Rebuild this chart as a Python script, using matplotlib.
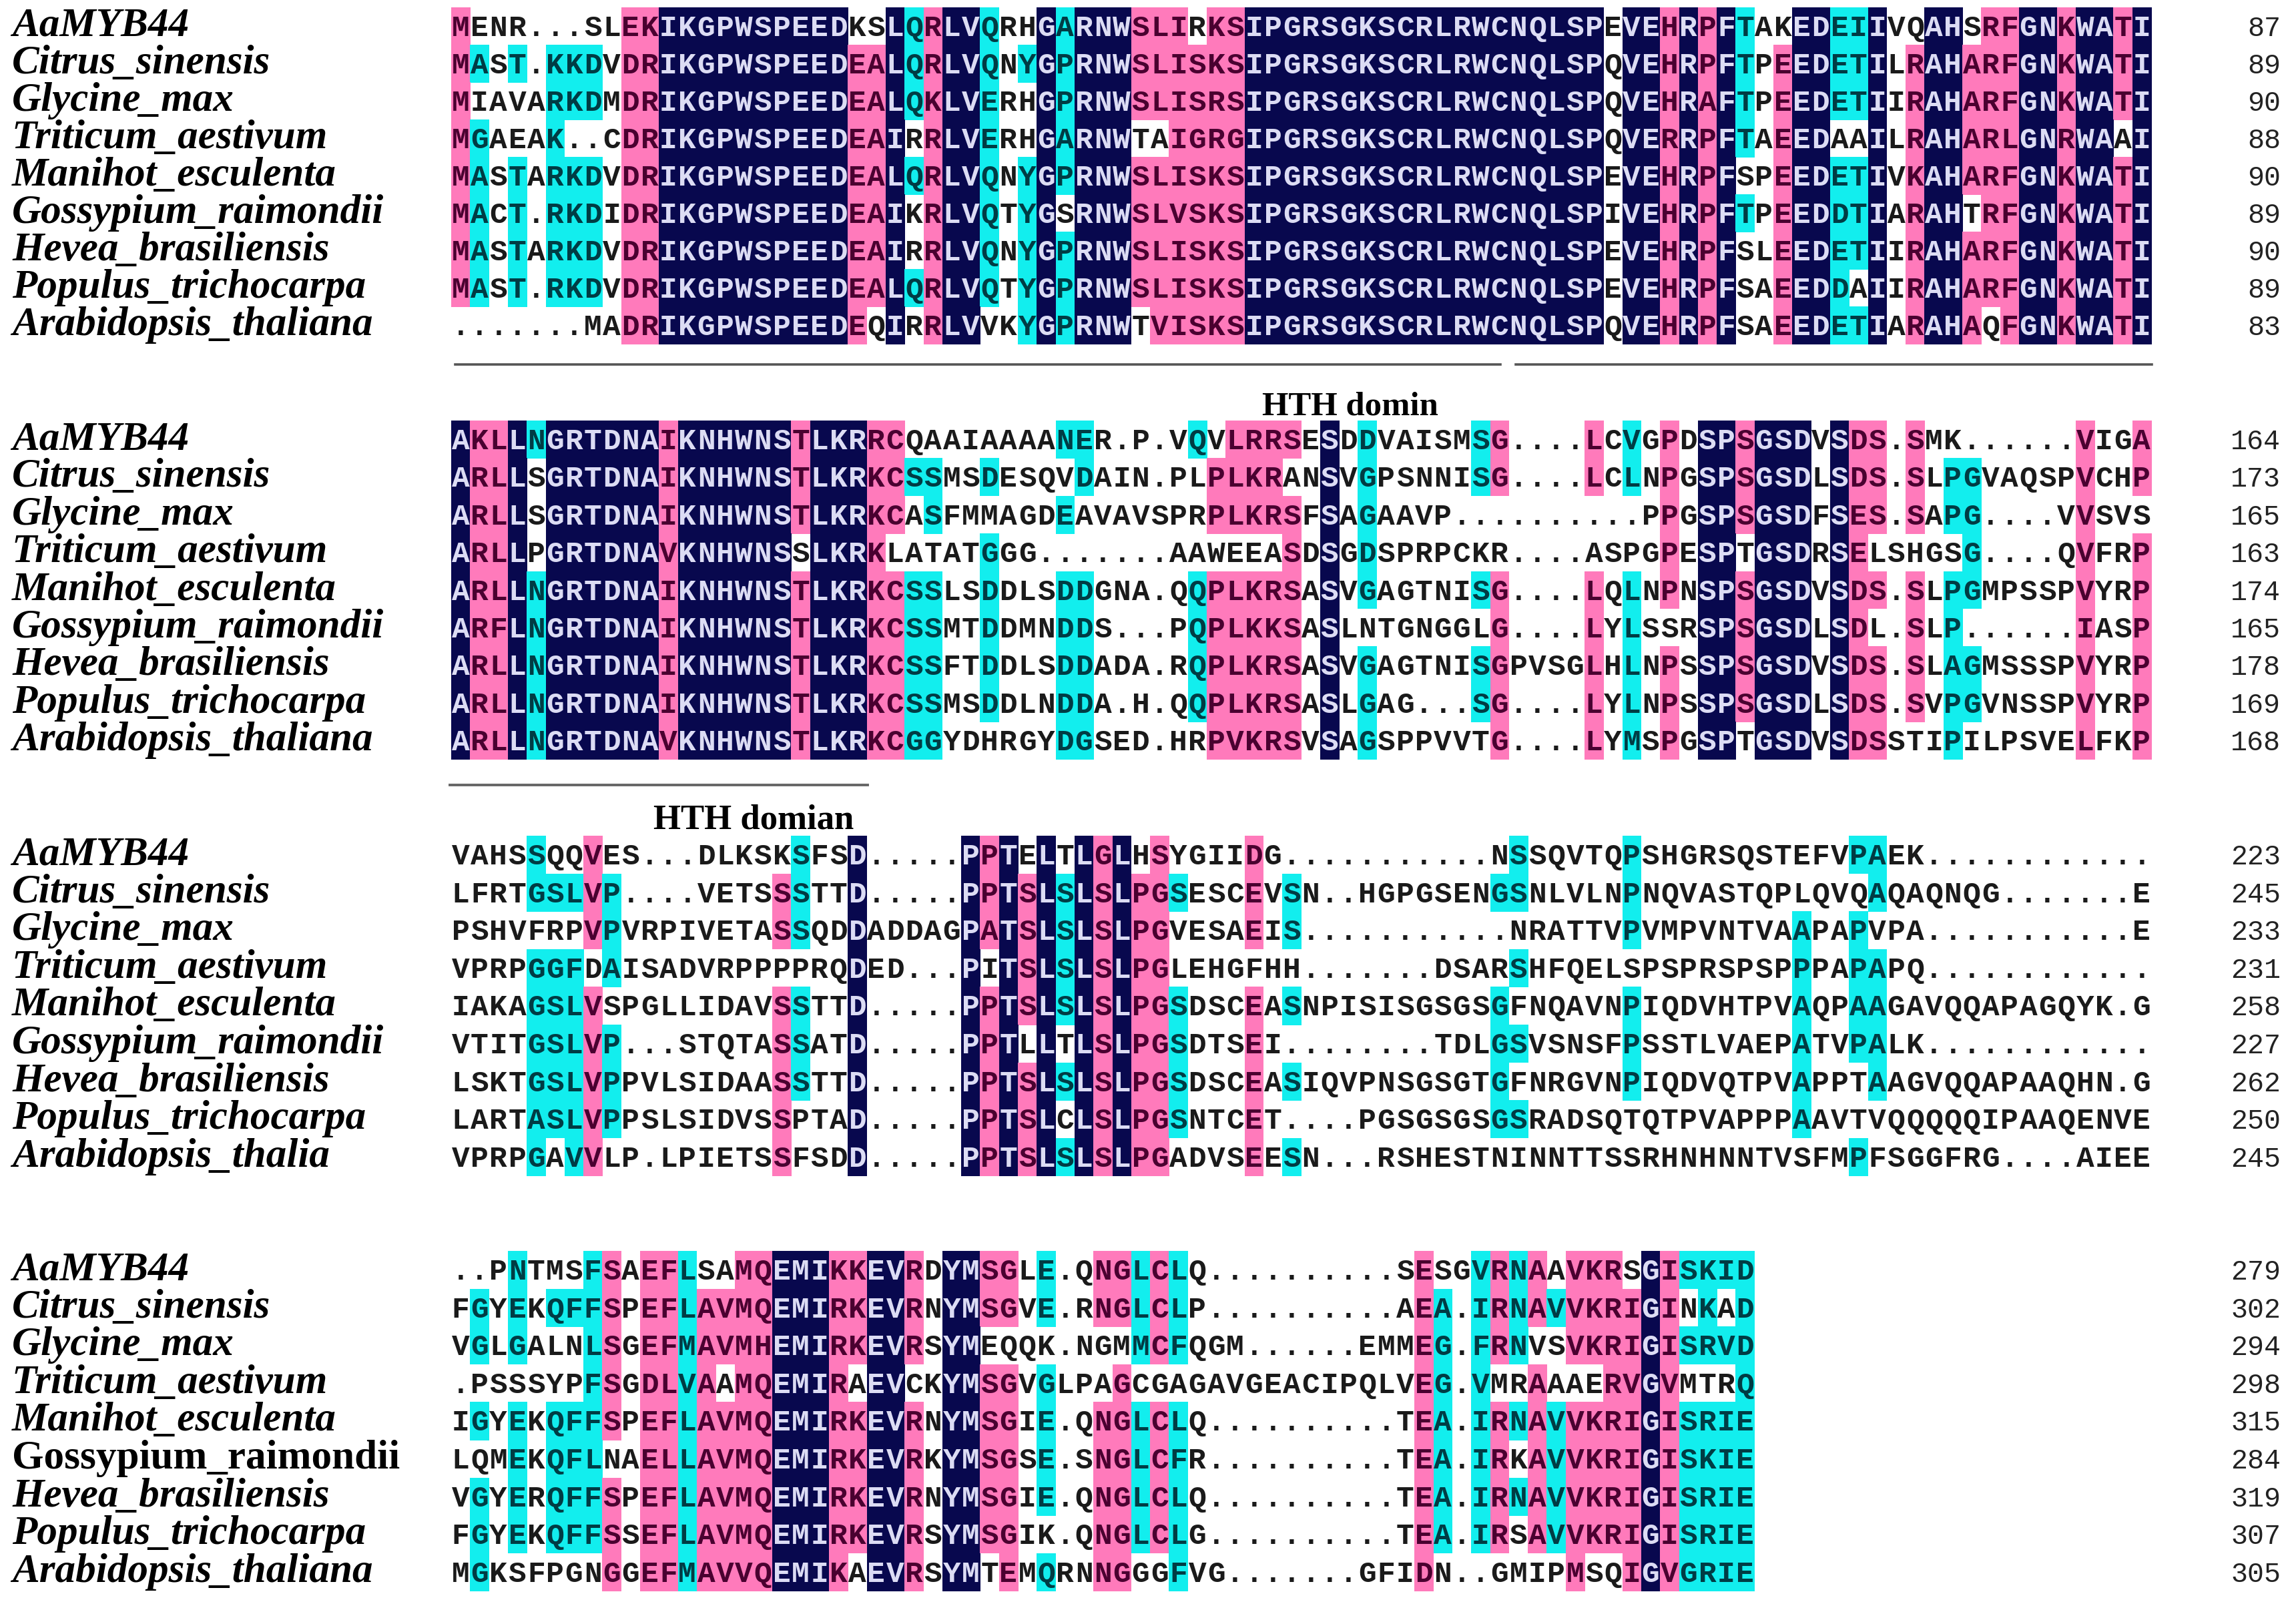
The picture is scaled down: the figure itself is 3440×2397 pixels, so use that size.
import matplotlib
matplotlib.use('Agg')
import matplotlib.pyplot as plt
from matplotlib.patches import Rectangle

# species labels for each block (block 3 really is cut short in the original)
species = ['AaMYB44', 'Citrus_sinensis', 'Glycine_max', 'Triticum_aestivum', 'Manihot_esculenta',
           'Gossypium_raimondii', 'Hevea_brasiliensis', 'Populus_trichocarpa', 'Arabidopsis_thaliana']
species_block3 = species[:8] + ['Arabidopsis_thalia']

# alignment rows
seq1 = ['MENR...SLEKIKGPWSPEEDKSLQRLVQRHGARNWSLIRKSIPGRSGKSCRLRWCNQLSPEVEHRPFTAKEDEIIVQAHSRFGNKWATI',
        'MAST.KKDVDRIKGPWSPEEDEALQRLVQNYGPRNWSLISKSIPGRSGKSCRLRWCNQLSPQVEHRPFTPEEDETILRAHARFGNKWATI',
        'MIAVARKDMDRIKGPWSPEEDEALQKLVERHGPRNWSLISRSIPGRSGKSCRLRWCNQLSPQVEHRAFTPEEDETIIRAHARFGNKWATI',
        'MGAEAK..CDRIKGPWSPEEDEAIRRLVERHGARNWTAIGRGIPGRSGKSCRLRWCNQLSPQVERRPFTAEEDAAILRAHARLGNRWAAI',
        'MASTARKDVDRIKGPWSPEEDEALQRLVQNYGPRNWSLISKSIPGRSGKSCRLRWCNQLSPEVEHRPFSPEEDETIVKAHARFGNKWATI',
        'MACT.RKDIDRIKGPWSPEEDEAIKRLVQTYGSRNWSLVSKSIPGRSGKSCRLRWCNQLSPIVEHRPFTPEEDDTIARAHTRFGNKWATI',
        'MASTARKDVDRIKGPWSPEEDEAIRRLVQNYGPRNWSLISKSIPGRSGKSCRLRWCNQLSPEVEHRPFSLEEDETIIRAHARFGNKWATI',
        'MAST.RKDVDRIKGPWSPEEDEALQRLVQTYGPRNWSLISKSIPGRSGKSCRLRWCNQLSPEVEHRPFSAEEDDAIIRAHARFGNKWATI',
        '.......MADRIKGPWSPEEDEQIRRLVVKYGPRNWTVISKSIPGRSGKSCRLRWCNQLSPQVEHRPFSAEEDETIARAHAQFGNKWATI']
seq2 = ['AKLLNGRTDNAIKNHWNSTLKRRCQAAIAAAANER.P.VQVLRRSESDDVAISMSG....LCVGPDSPSGSDVSDS.SMK......VIGA',
        'ARLLSGRTDNAIKNHWNSTLKRKCSSMSDESQVDAIN.PLPLKRANSVGPSNNISG....LCLNPGSPSGSDLSDS.SLPGVAQSPVCHP',
        'ARLLSGRTDNAIKNHWNSTLKRKCASFMMAGDEAVAVSPRPLKRSFSAGAAVP..........PPGSPSGSDFSES.SAPG....VVSVS',
        'ARLLPGRTDNAVKNHWNSSLKRKLATATGGG.......AAWEEASDSGDSPRPCKR....ASPGPESPTGSDRSELSHGSG....QVFRP',
        'ARLLNGRTDNAIKNHWNSTLKRKCSSLSDDLSDDGNA.QQPLKRSASVGAGTNISG....LQLNPNSPSGSDVSDS.SLPGMPSSPVYRP',
        'ARFLNGRTDNAIKNHWNSTLKRKCSSMTDDMNDDS...PQPLKKSASLNTGNGGLG....LYLSSRSPSGSDLSDL.SLP......IASP',
        'ARLLNGRTDNAIKNHWNSTLKRKCSSFTDDLSDDADA.RQPLKRSASVGAGTNISGPVSGLHLNPSSPSGSDVSDS.SLAGMSSSPVYRP',
        'ARLLNGRTDNAIKNHWNSTLKRKCSSMSDDLNDDA.H.QQPLKRSASLGAG...SG....LYLNPSSPSGSDLSDS.SVPGVNSSPVYRP',
        'ARLLNGRTDNAVKNHWNSTLKRKCGGYDHRGYDGSED.HRPVKRSVSAGSPPVVTG....LYMSPGSPTGSDVSDSSTIPILPSVELFKP']
seq3 = ['VAHSSQQVES...DLKSKSFSD.....PPTELTLGLHSYGIIDG...........NSSQVTQPSHGRSQSTEFVPAEK............',
        'LFRTGSLVP....VETSSSTTD.....PPTSLSLSLPGSESCEVSN..HGPGSENGSNLVLNPNQVASTQPLQVQAQAQNQG.......E',
        'PSHVFRPVPVRPIVETASSQDDADDAGPATSLSLSLPGVESAEIS...........NRATTVPVMPVNTVAAPAPVPA...........E',
        'VPRPGGFDAISADVRPPPPRQDED...PITSLSLSLPGLEHGFHH.......DSARSHFQELSPSPRSPSPPPAPAPQ............',
        'IAKAGSLVSPGLLIDAVSSTTD.....PPTSLSLSLPGSDSCEASNPISISGSGSGFNQAVNPIQDVHTPVAQPAAGAVQQAPAGQYK.G',
        'VTITGSLVP...STQTASSATD.....PPTLLTLSLPGSDTSEI........TDLGSVSNSFPSSTLVAEPATVPALK............',
        'LSKTGSLVPPVLSIDAASSTTD.....PPTSLSLSLPGSDSCEASIQVPNSGSGTGFNRGVNPIQDVQTPVAPPTAAGVQQAPAAQHN.G',
        'LARTASLVPPSLSIDVSSPTAD.....PPTSLCLSLPGSNTCET....PGSGSGSGSRADSQTQTPVAPPPAAVTVQQQQQIPAAQENVE',
        'VPRPGAVVLP.LPIETSSFSDD.....PPTSLSLSLPGADVSEESN...RSHESTNINNTTSSRHNHNNTVSFMPFSGGFRG....AIEE']
seq4 = ['..PNTMSFSAEFLSAMQEMIKKEVRDYMSGLE.QNGLCLQ..........SESGVRNAAVKRSGISKID',
        'FGYEKQFFSPEFLAVMQEMIRKEVRNYMSGVE.RNGLCLP..........AEA.IRNAVVKRIGINKAD',
        'VGLGALNLSGEFMAVMHEMIRKEVRSYMEQQK.NGMMCFQGM......EMMEG.FRNVSVKRIGISRVD',
        '.PSSSYPFSGDLVAAMQEMIRAEVCKYMSGVGLPAGCGAGAVGEACIPQLVEG.VMRAAAERVGVMTRQ',
        'IGYEKQFFSPEFLAVMQEMIRKEVRNYMSGIE.QNGLCLQ..........TEA.IRNAVVKRIGISRIE',
        'LQMEKQFLNAELLAVMQEMIRKEVRKYMSGSE.SNGLCFR..........TEA.IRKAVVKRIGISKIE',
        'VGYERQFFSPEFLAVMQEMIRKEVRNYMSGIE.QNGLCLQ..........TEA.IRNAVVKRIGISRIE',
        'FGYEKQFFSSEFLAVMQEMIRKEVRSYMSGIK.QNGLCLG..........TEA.IRSAVVKRIGISRIE',
        'MGKSFPGNGGEFMAVVQEMIKAEVRSYMTEMQRNNGGGFVG.......GFIDN..GMIPMSQIGVGRIE']

# residue counts at the right of each row
counts1 = [87, 89, 90, 88, 90, 89, 90, 89, 83]
counts2 = [164, 173, 165, 163, 174, 165, 178, 169, 168]
counts3 = [223, 245, 233, 231, 258, 227, 262, 250, 245]
counts4 = [279, 302, 294, 298, 315, 284, 319, 307, 305]

# conservation per column, run length first: 0 none, 1 low, 2 mid, 3 identical
# a one digit pattern means all nine rows
cons1 = [(1, '222222220'), (1, '010111110'), (1, '0'), (1, '010011110'), (1, '0'), (1, '011111110'),
         (2, '011011110'), (1, '0'), (2, '2'), (10, '3'), (1, '022222222'), (1, '022222220'), (1, '3'),
         (1, '111010010'), (1, '2'), (2, '3'), (1, '111111110'), (1, '0'), (1, '010011111'), (1, '3'),
         (1, '111110111'), (3, '3'), (1, '222022220'), (1, '222022222'), (1, '2'), (1, '022222222'),
         (2, '2'), (19, '3'), (1, '0'), (2, '3'), (1, '2'), (1, '3'), (1, '2'), (1, '3'),
         (1, '111101000'), (1, '0'), (1, '022222222'), (2, '3'), (1, '111011111'), (1, '111011101'),
         (1, '3'), (1, '0'), (1, '022222222'), (2, '3'), (1, '022220222'), (1, '222222220'), (1, '2'),
         (2, '3'), (1, '2'), (2, '3'), (1, '222022222'), (1, '3')]
cons2 = [(1, '3'), (2, '2'), (1, '3'), (1, '100011111'), (6, '3'), (1, '2'), (6, '3'), (1, '222022222'),
         (3, '3'), (1, '2'), (1, '222022222'), (1, '010011111'), (1, '011011111'), (2, '0'),
         (1, '010111110'), (3, '0'), (1, '101011111'), (1, '110011111'), (5, '0'), (1, '100011110'),
         (1, '022022222'), (3, '222022222'), (1, '202222222'), (1, '0'), (1, '3'), (1, '0'),
         (1, '111110111'), (5, '0'), (1, '110010110'), (1, '220022222'), (4, '0'), (1, '220022222'),
         (1, '0'), (1, '110011111'), (1, '0'), (1, '222220222'), (1, '0'), (2, '3'), (1, '222022220'),
         (3, '3'), (1, '0'), (1, '3'), (1, '2'), (1, '222020222'), (1, '0'), (1, '222022220'), (1, '0'),
         (1, '011011111'), (1, '011110110'), (5, '0'), (1, '2'), (2, '0'), (1, '220222222')]
cons3 = [(4, '0'), (1, '110111111'), (1, '010111110'), (1, '010111111'), (1, '222022222'),
         (1, '011101110'), (8, '0'), (1, '022022222'), (1, '111011100'), (2, '0'), (1, '3'), (5, '0'),
         (1, '3'), (1, '222022222'), (1, '3'), (1, '022220222'), (1, '3'), (1, '011110101'), (1, '3'),
         (1, '2'), (1, '3'), (1, '022222222'), (1, '2'), (1, '010011110'), (3, '0'), (1, '222022222'),
         (1, '0'), (1, '011010101'), (10, '0'), (1, '010011110'), (1, '110101010'), (5, '0'),
         (1, '111011100'), (8, '0'), (1, '001111110'), (2, '0'), (1, '101111001'), (1, '110111100'),
         (14, '0')]
cons4 = [(1, '0'), (1, '011010111'), (1, '0'), (1, '111011110'), (1, '0'), (2, '010011110'),
         (1, '111111110'), (1, '222220222'), (1, '0'), (2, '2'), (1, '1'), (1, '022222222'),
         (1, '022022222'), (2, '2'), (3, '3'), (1, '2'), (1, '222022220'), (2, '3'), (1, '222022222'),
         (1, '0'), (2, '3'), (1, '220222220'), (1, '220222222'), (1, '0'), (1, '110111101'), (2, '0'),
         (1, '220022222'), (1, '220222222'), (1, '111011110'), (1, '222022220'), (1, '111011111'),
         (12, '0'), (1, '2'), (1, '011111110'), (1, '0'), (1, '111111110'), (1, '222022220'),
         (1, '111010100'), (1, '220222220'), (1, '010011110'), (1, '222022222'), (1, '222022220'),
         (1, '222222220'), (1, '022222222'), (1, '3'), (1, '2'), (1, '101011111'), (1, '111011111'),
         (1, '101011111'), (1, '1')]

# cell colour and letter colour for each conservation level
cell_col = {1: '#12eeee', 2: '#ff7abb', 3: '#08084e'}
text_col = {0: '#1a1a1a', 1: '#003c44', 2: '#4a0030', 3: '#dcdcf4'}

X0 = 676
CW = 28.3


def expand(runs):
    cols = []
    for n, pat in runs:
        cols += [pat * 9 if len(pat) == 1 else pat] * n
    return cols


fig = plt.figure(figsize=(34.4, 23.97), dpi=100, facecolor='white')
ax = fig.add_axes([0, 0, 1, 1])
ax.set_xlim(0, 3440)
ax.set_ylim(2397, 0)
ax.axis('off')


def draw_block(seqs, runs, names, counts, top, pitch):
    cols = expand(runs)
    for r in range(9):
        y = top + r * pitch
        style = 'italic'
        if names[r] == 'Gossypium_raimondii' and top > 1800:
            style = 'normal'
        ax.text(18, y + 43, names[r], family='Liberation Serif', fontsize=44, fontweight='bold',
                fontstyle=style, va='baseline', ha='left', color='black')
        for c, ch in enumerate(seqs[r]):
            level = int(cols[c][r])
            x = X0 + c * CW
            if level:
                ax.add_patch(Rectangle((x, y), CW + 0.5, pitch + 0.5, facecolor=cell_col[level],
                                       edgecolor='none', antialiased=False, zorder=1))
            ax.text(x + CW / 2, y + 43, ch, family='Liberation Mono', fontsize=32, fontweight='bold',
                    ha='center', va='baseline', color=text_col[level], zorder=2)
        ax.text(3417, y + 43, str(counts[r]), family='Liberation Mono', fontsize=30,
                ha='right', va='baseline', color='#222222')


draw_block(seq1, cons1, species, counts1, 11, 56.0)
draw_block(seq2, cons2, species, counts2, 630, 56.4)
draw_block(seq3, cons3, species_block3, counts3, 1252, 56.6)
draw_block(seq4, cons4, species, counts4, 1874, 56.6)

# domain lines and their captions
ax.plot([682, 2248], [545.5, 545.5], color='#555555', lw=2.6)
ax.plot([2271, 3224], [545.5, 545.5], color='#555555', lw=2.6)
ax.plot([674, 1300], [1176, 1176], color='#666666', lw=2.8)
ax.text(2023, 622, 'HTH domin', family='Liberation Serif', fontsize=36.5, fontweight='bold',
        ha='center', va='baseline', color='black')
ax.text(1129, 1241, 'HTH domian', family='Liberation Serif', fontsize=38, fontweight='bold',
        ha='center', va='baseline', color='black')

fig.savefig('out.png', dpi=100, facecolor='white')
